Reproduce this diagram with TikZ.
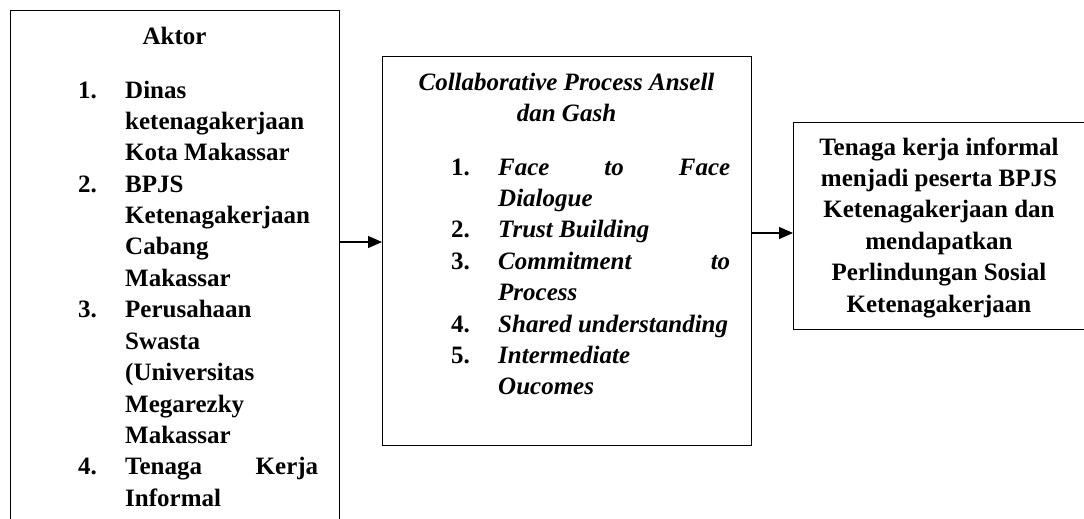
\documentclass[tikz,border=0pt]{standalone}
\usepackage{fontspec}
\setmainfont{Liberation Serif}
\usetikzlibrary{arrows.meta}
\begin{document}
\begin{tikzpicture}[x=1pt,y=1pt,
  box/.style={draw, line width=1.2pt, inner sep=0pt, rectangle},
  txt/.style={inner sep=0pt, font=\fontsize{25}{31.4}\selectfont\bfseries},
  arr/.style={line width=1.2pt, -{Triangle[length=14pt,width=12pt]}}]
\useasboundingbox (0,0) rectangle (1084,-519);
\fill[white] (0,0) rectangle (1084,-519);
% boxes
\node[box, minimum width=329pt, minimum height=540pt, anchor=north west] (aktor) at (10,-10) {};
\node[box, minimum width=369pt, minimum height=389pt, anchor=north west] (proc) at (382,-56) {};
\node[box, minimum width=292pt, minimum height=207pt, anchor=north west] (hasil) at (793,-122) {};
% left box text
\node[txt, anchor=base] (aktortitle) at (174.5,-45) {Aktor};
\node[txt, anchor=base west] (aktorlist) at (78,-98) {%
\begin{tabular}[t]{@{}l@{}l@{}}
\makebox[47pt][l]{1.} & Dinas\\
 & ketenagakerjaan\\
 & Kota Makassar\\
2. & BPJS\\
 & Ketenagakerjaan\\
 & Cabang\\
 & Makassar\\
3. & Perusahaan\\
 & Swasta\\
 & (Universitas\\
 & Megarezky\\
 & Makassar\\
4. & \makebox[193pt][s]{Tenaga Kerja}\\
 & Informal
\end{tabular}};
% middle box text
\node[txt, anchor=base] (proctitle) at (566.5,-90) {%
\begin{tabular}[t]{@{}c@{}}
\itshape Collaborative Process Ansell\\
\itshape dan Gash
\end{tabular}};
\node[txt, anchor=base west] (proclist) at (451,-175) {%
\begin{tabular}[t]{@{}l@{}l@{}}
\makebox[47pt][l]{1.} & \itshape\makebox[232pt][s]{Face to Face}\\
 & \itshape Dialogue\\
2. & \itshape Trust Building\\
3. & \itshape\makebox[232pt][s]{Commitment to}\\
 & \itshape Process\\
4. & \itshape Shared understanding\\
5. & \itshape Intermediate\\
 & \itshape Oucomes
\end{tabular}};
% right box text
\node[txt, anchor=base] (hasiltext) at (939,-155) {%
\begin{tabular}[t]{@{}c@{}}
Tenaga kerja informal\\
menjadi peserta BPJS\\
Ketenagakerjaan dan\\
mendapatkan\\
Perlindungan Sosial\\
Ketenagakerjaan
\end{tabular}};
% connectors
\coordinate (ya) at (0,-242);
\coordinate (yb) at (0,-233);
\draw[arr] (aktor.east |- ya) -- (proc.west |- ya);
\draw[arr] (proc.east |- yb) -- (hasil.west |- yb);
\end{tikzpicture}
\end{document}
